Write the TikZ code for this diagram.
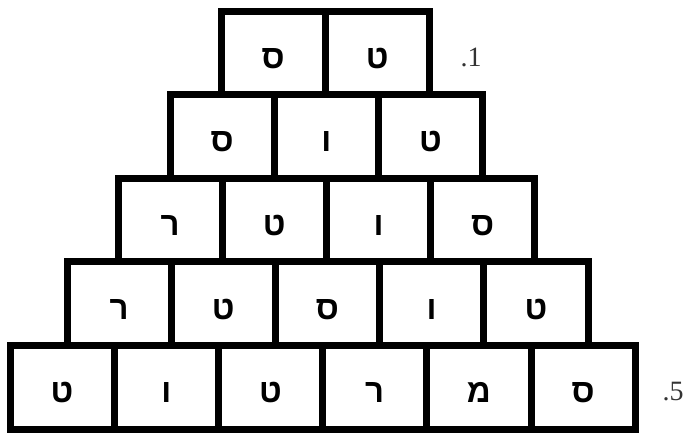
\documentclass[tikz,border=0pt]{standalone}
\usepackage{fontspec}
\setmainfont{Liberation Serif}
\newfontfamily\hebfont[Script=Hebrew]{Liberation Sans Bold}
\TeXXeTstate=1
\begin{document}
\begin{tikzpicture}[x=1pt,y=-1pt,
  cell/.style={draw=black, line width=7pt, minimum width=104.2pt, minimum height=83.6pt,
    inner sep=0pt, text height=31pt, text depth=0pt,
    font=\hebfont\fontsize{33}{33}\selectfont},
  rowlabel/.style={inner sep=0pt, font=\fontsize{28}{28}\selectfont, text=black!80}]
\useasboundingbox (0,0) rectangle (687,434);
% row 1 (left 221, top 11)
\node[cell] (r1c1) at (273.1,52.8) {\beginR ס\endR};
\node[cell] (r1c2) at (377.3,52.8) {\beginR ט\endR};
% row 2 (left 170)
\node[cell] (r2c1) at (222.1,136.4) {\beginR ס\endR};
\node[cell] (r2c2) at (326.3,136.4) {\beginR ו\endR};
\node[cell] (r2c3) at (430.5,136.4) {\beginR ט\endR};
% row 3 (left 118)
\node[cell] (r3c1) at (170.1,220.0) {\beginR ר\endR};
\node[cell] (r3c2) at (274.3,220.0) {\beginR ט\endR};
\node[cell] (r3c3) at (378.5,220.0) {\beginR ו\endR};
\node[cell] (r3c4) at (482.7,220.0) {\beginR ס\endR};
% row 4 (left 67)
\node[cell] (r4c1) at (119.1,303.6) {\beginR ר\endR};
\node[cell] (r4c2) at (223.3,303.6) {\beginR ט\endR};
\node[cell] (r4c3) at (327.5,303.6) {\beginR ס\endR};
\node[cell] (r4c4) at (431.7,303.6) {\beginR ו\endR};
\node[cell] (r4c5) at (535.9,303.6) {\beginR ט\endR};
% row 5 (left 10)
\node[cell] (r5c1) at (62.1,387.2) {\beginR ט\endR};
\node[cell] (r5c2) at (166.3,387.2) {\beginR ו\endR};
\node[cell] (r5c3) at (270.5,387.2) {\beginR ט\endR};
\node[cell] (r5c4) at (374.7,387.2) {\beginR ר\endR};
\node[cell] (r5c5) at (478.9,387.2) {\beginR מ\endR};
\node[cell] (r5c6) at (583.1,387.2) {\beginR ס\endR};
% labels
\node[rowlabel] (lab1) at (471,57) {.1};
\node[rowlabel] (lab5) at (673,392) {.5};
\end{tikzpicture}
\end{document}
